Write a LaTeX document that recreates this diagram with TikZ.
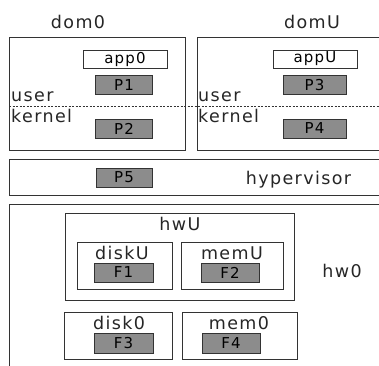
\documentclass[tikz,border=0pt]{standalone}
\usepackage{fontspec}
\setmainfont{DejaVu Sans}[LetterSpace=8]
\begin{document}
\begin{tikzpicture}[x=1pt,y=-1pt,
  region/.style={draw=black!80, line width=0.9pt},
  pbox/.style={draw=black!80, fill=black!45, line width=0.9pt, inner sep=0pt, font=\fontsize{15}{15}\selectfont},
  wbox/.style={draw=black!80, fill=white, line width=0.9pt, inner sep=0pt, font=\fontsize{15}{15}\selectfont},
  lbl/.style={inner sep=0pt, anchor=base, text=black!85, font=\fontsize{17.5}{17.5}\selectfont},
  sidelbl/.style={inner sep=0pt, anchor=base west, text=black!85, font=\fontsize{17.5}{17.5}\selectfont}]
\useasboundingbox (0,0) rectangle (379,365);
% domains
\draw[region] (9,37) rectangle (185,150);
\draw[region] (197,37) rectangle (395,150);
\coordinate (dashL) at (9,106);
\coordinate (dashR) at (379,106);
\draw[black!80, dashed, dash pattern=on 2pt off 1.5pt, line width=0.8pt] (dashL) -- (dashR);
\node[lbl] (dom0) at (78,28) {dom0};
\node[lbl] (domU) at (312,28) {domU};
\node[sidelbl] (user0) at (11,101) {user};
\node[sidelbl] (kern0) at (11,122) {kernel};
\node[sidelbl] (userU) at (198,101) {user};
\node[sidelbl] (kernU) at (198,122) {kernel};
\node[wbox, minimum width=84pt, minimum height=18pt] (app0) at (125,59) {app0};
\node[wbox, minimum width=84pt, minimum height=18pt] (appU) at (315,59) {appU};
\node[pbox, minimum width=57pt, minimum height=19pt] (P1) at (124,85) {P1};
\node[pbox, minimum width=57pt, minimum height=19pt] (P2) at (124,128.5) {P2};
\node[pbox, minimum width=63pt, minimum height=19pt] (P3) at (314.5,85) {P3};
\node[pbox, minimum width=63pt, minimum height=19pt] (P4) at (314.5,128.5) {P4};
% hypervisor
\draw[region] (9,159) rectangle (395,195);
\node[pbox, minimum width=56pt, minimum height=19pt] (P5) at (124,177.5) {P5};
\node[lbl] (hyp) at (298.5,184) {hypervisor};
% hardware
\draw[region] (9,204) rectangle (395,380);
\node[lbl] (hw0) at (342,277) {hw0};
\draw[region] (65,213) rectangle (294,300);
\node[lbl] (hwU) at (180,230) {hwU};
\draw[region] (77,242) rectangle (172,289);
\node[lbl] (diskU) at (122,259) {diskU};
\node[pbox, minimum width=59pt, minimum height=19pt] (F1) at (123.5,272.5) {F1};
\draw[region] (181,242) rectangle (283,289);
\node[lbl] (memU) at (232,259) {memU};
\node[pbox, minimum width=58pt, minimum height=19pt] (F2) at (230,272.5) {F2};
\draw[region] (64,312) rectangle (172,359);
\node[lbl] (disk0) at (119,329) {disk0};
\node[pbox, minimum width=59pt, minimum height=20pt] (F3) at (123.5,343) {F3};
\draw[region] (182,312) rectangle (297,359);
\node[lbl] (mem0) at (239,329) {mem0};
\node[pbox, minimum width=58pt, minimum height=20pt] (F4) at (231,343) {F4};
\end{tikzpicture}
\end{document}
